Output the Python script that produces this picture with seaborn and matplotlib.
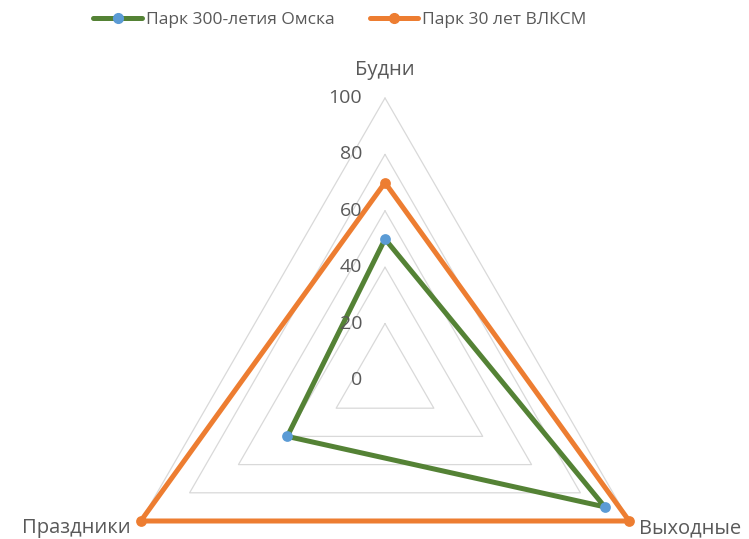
import numpy as np
import matplotlib
matplotlib.use("Agg")
import matplotlib.pyplot as plt
import seaborn as sns
from matplotlib.lines import Line2D

categories = ["Будни", "Выходные", "Праздники"]
series_names = ["Парк 300-летия Омска", "Парк 30 лет ВЛКСМ"]
park_300 = [50, 90, 40]
park_vlksm = [70, 100, 100]
grid_levels = [0, 20, 40, 60, 80, 100]

text_color = "#595959"
green = "#548235"
orange = "#ED7D31"
blue = "#5B9BD5"

sns.set_style("white")
plt.rcParams["font.family"] = ["Open Sans", "DejaVu Sans"]

fig = plt.figure(figsize=(7.49, 5.39), dpi=100)
# polar axes placed so that centre sits at (385, 380) px with radius ~282 px
R = 282.0
cx, cy = 385.0, 380.0
ax = fig.add_axes([(cx - R) / 749, (539 - cy - R) / 539, 2 * R / 749, 2 * R / 539],
                  projection="polar")
ax.set_theta_zero_location("N")
ax.set_theta_direction(-1)
ax.set_ylim(0, 100)
ax.grid(False)
ax.spines["polar"].set_visible(False)
ax.set_xticks([])
ax.set_yticks([])
ax.patch.set_alpha(0)

angles = np.linspace(0, 2 * np.pi, len(categories), endpoint=False)
closed = np.append(angles, angles[0])

# triangular grid
for lvl in grid_levels[1:]:
    ax.plot(closed, [lvl] * len(closed), color="#d9d9d9", lw=0.9, zorder=1, clip_on=False)

# series
for vals, line_c, mark_c in [(park_300, green, blue), (park_vlksm, orange, orange)]:
    r = np.append(vals, vals[0])
    sns.lineplot(x=closed, y=r, sort=False, ax=ax, color=line_c, lw=3.6,
                 clip_on=False, zorder=3, estimator=None)
    sns.scatterplot(x=angles, y=vals, ax=ax, color=mark_c, s=60, edgecolor=mark_c,
                    linewidth=0, clip_on=False, zorder=4)
ax.set_xlabel("")
ax.set_ylabel("")
if ax.get_legend():
    ax.get_legend().remove()

# radial tick labels
for lvl in grid_levels:
    ax.annotate(str(lvl), xy=(0, lvl), xytext=(-16.5, 0), textcoords="offset points",
                ha="right", va="center", fontsize=14, color=text_color,
                annotation_clip=False)

# category labels
offsets = [((0, 20), "center", "center"), ((7, -5), "left", "center"), ((-7, -5), "right", "center")]
for ang, name, (off, ha, va) in zip(angles, categories, offsets):
    ax.annotate(name, xy=(ang, 100), xytext=off, textcoords="offset points",
                ha=ha, va=va, fontsize=14.5, color=text_color, annotation_clip=False)

handles = [
    Line2D([], [], color=green, lw=3.6, marker="o", markersize=7,
           markerfacecolor=blue, markeredgecolor=blue),
    Line2D([], [], color=orange, lw=3.6, marker="o", markersize=7,
           markerfacecolor=orange, markeredgecolor=orange),
]
fig.legend(handles, series_names, loc="center", bbox_to_anchor=(0.454, 0.963),
           ncol=2, frameon=False, fontsize=12.5, labelcolor=text_color,
           handlelength=2.8, handletextpad=0.25, columnspacing=2.0)

fig.savefig("out.png", dpi=100)
